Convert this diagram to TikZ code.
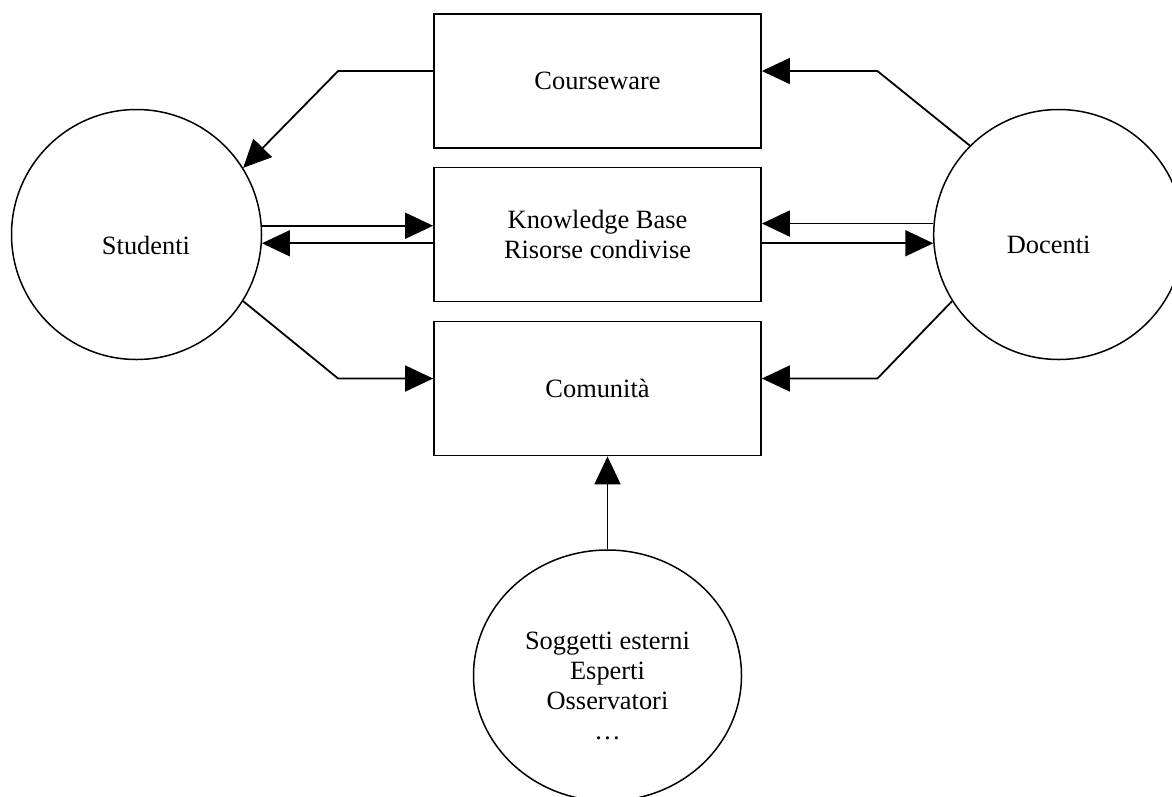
\documentclass[tikz,border=0pt]{standalone}
\usepackage{fontspec}
\setmainfont{Liberation Serif}
\usetikzlibrary{arrows.meta,shapes.geometric}
\begin{document}
\begin{tikzpicture}[x=1pt,y=-1pt,
  every node/.style={font=\fontsize{26.4}{30}\selectfont, align=center},
  box/.style={draw, line width=1.8pt, minimum width=327pt, minimum height=134pt, inner sep=0pt},
  actor/.style={draw, circle, line width=1.5pt, minimum size=250pt, inner sep=0pt},
  guest/.style={draw, ellipse, line width=1.5pt, minimum width=268pt, minimum height=251pt, inner sep=0pt},
  caption/.style={inner sep=0pt},
  arr/.style={line width=1.8pt, -{Triangle[length=28pt,width=26pt]}}
]
% canvas
\fill[white] (0,0) rectangle (1172,796);
\useasboundingbox (0,0) rectangle (1172,796);

% central resources
\node[box] (cw)  at (597.5,81)    {Courseware};
\node[box] (kb)  at (597.5,234.5) {Knowledge Base\\Risorse condivise};
\node[box] (com) at (597.5,388.5) {Comunità};

% actors
\node[actor] (stud) at (136.5,234.5) {};
\node[caption] (studtxt) at ([xshift=9.5pt,yshift=-10.5pt]stud.center) {Studenti};
\node[actor] (doc) at (1058.7,234.5) {};
\node[caption] (doctxt) at ([xshift=-10pt,yshift=-10.5pt]doc.center) {Docenti};
\node[guest] (ext) at (607.5,675.5) {};
\node[caption] (exttxt) at ([yshift=-10.5pt]ext.center) {Soggetti esterni\\Esperti\\Osservatori\\…};

% Courseware -> Studenti, Docenti -> Courseware
\draw[arr] ([yshift=10pt]cw.west) -- ([xshift=-95pt,yshift=10pt]cw.west) -- (stud.32);
\draw[arr] (doc.135) -- ([xshift=115.5pt,yshift=10pt]cw.east) -- ([yshift=10pt]cw.east);

% Knowledge Base exchanges
\draw[arr] (stud.4.7) -- (stud.4.7 -| kb.west);
\draw[arr] (stud.-4.7 -| kb.west) -- (stud.-4.7);
\draw[arr] (doc.175.3) -- (doc.175.3 -| kb.east);
\draw[arr] (doc.184.7 -| kb.east) -- (doc.184.7);

% into Comunità
\draw[arr] (stud.-32) -- ([xshift=-95pt,yshift=10pt]com.west) -- ([yshift=10pt]com.west);
\draw[arr] (doc.212) -- ([xshift=115.5pt,yshift=10pt]com.east) -- ([yshift=10pt]com.east);
\draw[arr] (ext.north) -- (ext.north |- com.south);
\end{tikzpicture}
\end{document}
